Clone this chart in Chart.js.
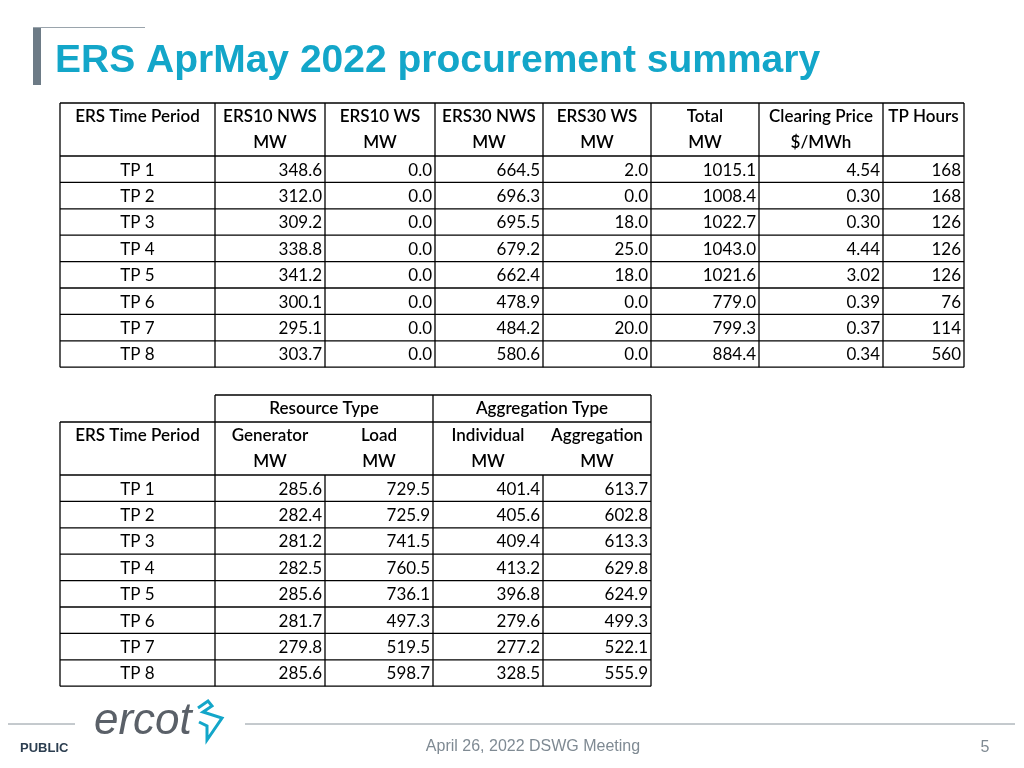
<!DOCTYPE html>
<html><head><meta charset="utf-8">
<script src="https://cdn.jsdelivr.net/npm/chart.js@4"></script>
<style>html,body{margin:0;padding:0;background:#fff;overflow:hidden}</style>
</head><body><canvas id="slide" width="1024" height="768"></canvas>
<script>
// table 1 data
var periods = ["TP 1","TP 2","TP 3","TP 4","TP 5","TP 6","TP 7","TP 8"];
var ers10Nws = [348.6,312.0,309.2,338.8,341.2,300.1,295.1,303.7];
var ers10Ws = [0.0,0.0,0.0,0.0,0.0,0.0,0.0,0.0];
var ers30Nws = [664.5,696.3,695.5,679.2,662.4,478.9,484.2,580.6];
var ers30Ws = [2.0,0.0,18.0,25.0,18.0,0.0,20.0,0.0];
var totalMw = [1015.1,1008.4,1022.7,1043.0,1021.6,779.0,799.3,884.4];
var clearingPrice = [4.54,0.30,0.30,4.44,3.02,0.39,0.37,0.34];
var tpHours = [168,168,126,126,126,76,114,560];
// table 2 data
var generatorMw = [285.6,282.4,281.2,282.5,285.6,281.7,279.8,285.6];
var loadMw = [729.5,725.9,741.5,760.5,736.1,497.3,519.5,598.7];
var individualMw = [401.4,405.6,409.4,413.2,396.8,279.6,277.2,328.5];
var aggregationMw = [613.7,602.8,613.3,629.8,624.9,499.3,522.1,555.9];

var FONT = "Lato, 'Noto Sans', sans-serif";

var slidePlugin = {
  id: 'slide',
  afterDraw: function(chart){
    var c = chart.ctx, sx = chart.scales.x, sy = chart.scales.y;
    var X = function(v){ return sx.getPixelForValue(v); };
    var Y = function(v){ return sy.getPixelForValue(v); };
    function line(x1,y1,x2,y2){ c.beginPath(); c.moveTo(X(x1),Y(y1)); c.lineTo(X(x2),Y(y2)); c.stroke(); }
    function text(t,x,y,align,font,color){ c.font=font; c.fillStyle=color||'#000'; c.textAlign=align; c.textBaseline='middle'; c.fillText(t,X(x),Y(y)); }
    c.save();
    // title
    c.fillStyle='#6d7b86'; c.fillRect(X(33),Y(27),X(41)-X(33),Y(85)-Y(27));
    c.strokeStyle='#9aa4ac'; c.lineWidth=1; line(33,27.5,145,27.5);
    text("ERS AprMay 2022 procurement summary",55,61,'left',"bold 39px 'Liberation Sans', Arial, sans-serif",'#13a6c9');
    var body = "17px "+FONT;
    var head = "600 17px "+FONT;
    c.strokeStyle='#000'; c.lineWidth=1.3;
    // table 1
    var cols1=[60,215,325,435,543,651,759,883,964];
    var rh=26.4, t1=103, h1=156;
    var heads1=[["ERS Time Period",""],["ERS10 NWS","MW"],["ERS10 WS","MW"],["ERS30 NWS","MW"],["ERS30 WS","MW"],["Total","MW"],["Clearing Price","$/MWh"],["TP Hours",""]];
    var cols1Data=[ers10Nws,ers10Ws,ers30Nws,ers30Ws,totalMw,clearingPrice,tpHours];
    var bot1=h1+rh*8;
    line(cols1[0],t1,cols1[8],t1); line(cols1[0],h1,cols1[8],h1);
    cols1.forEach(function(x){ line(x,t1,x,bot1); });
    for(var i=0;i<8;i++){
      var yb=h1+rh*(i+1); line(cols1[0],yb,cols1[8],yb);
      var ym=h1+rh*i+rh/2+1;
      text(periods[i],(cols1[0]+cols1[1])/2,ym,'center',body);
      cols1Data.forEach(function(arr,j){
        var v=arr[i];
        var s = j===6 ? String(v) : (j===5 ? v.toFixed(2) : v.toFixed(1));
        text(s,cols1[j+2]-3,ym,'right',body);
      });
    }
    heads1.forEach(function(h,j){
      var cx=(cols1[j]+cols1[j+1])/2;
      text(h[0],cx,117,'center',head); if(h[1]) text(h[1],cx,143,'center',head);
    });
    // table 2
    var cols2=[60,215,325,433,543,651];
    var t2=395, sub=422, h2=475;
    var bot2=h2+rh*8;
    line(cols2[1],t2,cols2[5],t2); line(cols2[0],sub,cols2[5],sub); line(cols2[0],h2,cols2[5],h2);
    line(cols2[0],sub,cols2[0],bot2); line(cols2[1],t2,cols2[1],bot2); line(cols2[3],t2,cols2[3],bot2); line(cols2[5],t2,cols2[5],bot2);
    line(cols2[2],h2,cols2[2],bot2); line(cols2[4],h2,cols2[4],bot2);
    text("Resource Type",(cols2[1]+cols2[3])/2,409,'center',head);
    text("Aggregation Type",(cols2[3]+cols2[5])/2,409,'center',head);
    text("ERS Time Period",(cols2[0]+cols2[1])/2,436,'center',head);
    var heads2=["Generator","Load","Individual","Aggregation"];
    var cols2Data=[generatorMw,loadMw,individualMw,aggregationMw];
    heads2.forEach(function(h,j){
      var cx=(cols2[j+1]+cols2[j+2])/2;
      text(h,cx,436,'center',head); text("MW",cx,462,'center',head);
    });
    for(var k=0;k<8;k++){
      var yb2=h2+rh*(k+1); line(cols2[0],yb2,cols2[5],yb2);
      var ym2=h2+rh*k+rh/2+1;
      text(periods[k],(cols2[0]+cols2[1])/2,ym2,'center',body);
      cols2Data.forEach(function(arr,j){ text(arr[k].toFixed(1),cols2[j+2]-3,ym2,'right',body); });
    }
    // footer
    c.strokeStyle='#8a949c'; c.lineWidth=1;
    line(8,724,75,724); line(245,724,1015,724);
    text("ercot",94,722,'left',"italic 44px 'Liberation Sans Narrow', 'Liberation Sans', sans-serif",'#5a6068');
    c.strokeStyle='#13a6c9'; c.lineWidth=3; c.lineJoin='miter';
    c.beginPath(); c.moveTo(X(198),Y(708)); c.lineTo(X(208),Y(701)); c.lineTo(X(212),Y(706)); c.lineTo(X(203),Y(712));
    c.lineTo(X(222),Y(718)); c.lineTo(X(207),Y(740)); c.lineTo(X(207),Y(726)); c.lineTo(X(199),Y(722)); c.stroke();
    text("PUBLIC",20,748,'left',"bold 13px 'Liberation Sans', Arial, sans-serif",'#2c3e50');
    text("April 26, 2022 DSWG Meeting",533,747,'center',"16px 'Liberation Sans', Arial, sans-serif",'#7f8a93');
    text("5",985,748,'center',"16px 'Liberation Sans', Arial, sans-serif",'#7f8a93');
    c.restore();
  }
};

new Chart(document.getElementById('slide'), {
  type: 'scatter',
  data: { datasets: [{ data: [] }] },
  options: {
    responsive: false, animation: false, devicePixelRatio: 1,
    layout: { padding: 0 },
    plugins: { legend: { display: false }, tooltip: { enabled: false } },
    scales: {
      x: { type: 'linear', min: 0, max: 1024, display: false },
      y: { type: 'linear', min: 0, max: 768, reverse: true, display: false }
    }
  },
  plugins: [slidePlugin]
});
</script>
</body></html>
